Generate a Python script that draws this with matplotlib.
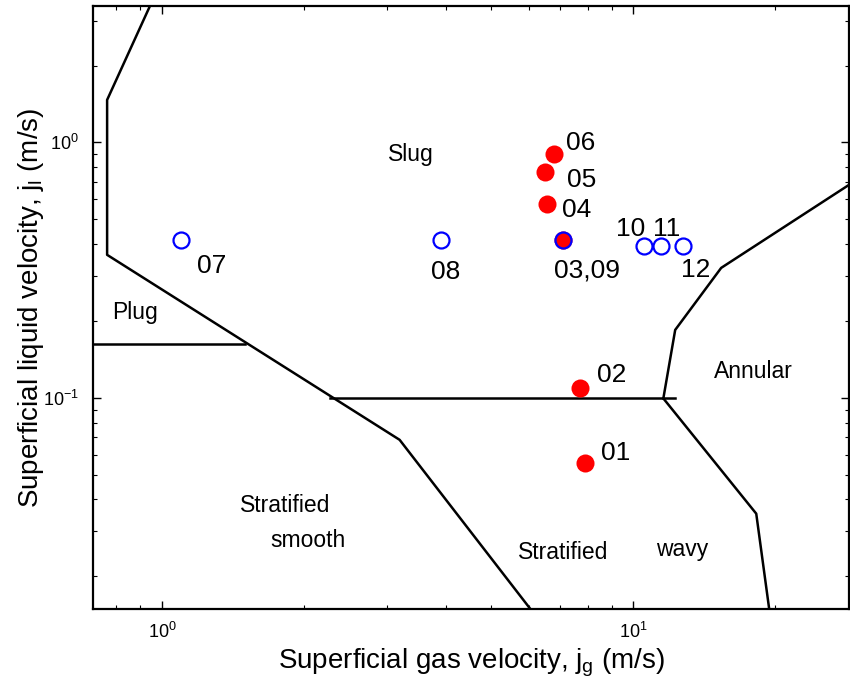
import matplotlib
matplotlib.use('Agg')
import matplotlib.pyplot as plt

plt.rcParams['font.family'] = ['Liberation Sans', 'DejaVu Sans']
plt.rcParams['mathtext.fontset'] = 'custom'
plt.rcParams['mathtext.rm'] = 'Liberation Sans'
plt.rcParams['mathtext.it'] = 'Liberation Sans'
plt.rcParams['mathtext.bf'] = 'Liberation Sans:bold'

# test points: red = filled series, blue = open series
rojo_ids = ['01', '02', '03', '04', '05', '06']
rojo_jg = [7.91, 7.69, 7.11, 6.57, 6.51, 6.80]
rojo_jl = [0.0558, 0.1088, 0.415, 0.573, 0.766, 0.902]

azul_ids = ['07', '08', '09', '10', '11', '12']
azul_jg = [1.097, 3.90, 7.11, 10.55, 11.45, 12.76]
azul_jl = [0.415, 0.415, 0.415, 0.393, 0.393, 0.393]

# label offsets (points) for each point label
rojo_off = [(22, 7), (23, 10), (17, -22), (21, -4), (26, -6), (19, 8)]
rojo_txt = ['01', '02', '03,09', '04', '05', '06']
azul_off = [(22, -19), (4, -23), None, (-10, 12), (4, 12), (9, -17)]

# flow regime boundaries (jg, jl)
slug_izq_jg = [0.943, 0.765, 0.765, 3.193, 6.02]
slug_izq_jl = [3.42, 1.467, 0.363, 0.0685, 0.01507]
plug_jg = [0.70, 1.499]
plug_jl = [0.1627, 0.1627]
strat_jg = [2.27, 12.27]
strat_jl = [0.0995, 0.0995]
anular_jg = [11.58, 12.27, 15.36, 30.0]
anular_jl = [0.0995, 0.1845, 0.3227, 0.72]
ondas_jg = [11.58, 18.23, 19.42]
ondas_jl = [0.0995, 0.0352, 0.0149]

# regime names
regimen_txt = ['Slug', 'Plug', 'Annular', 'Stratified', 'smooth', 'Stratified', 'wavy']
regimen_jg = [3.37, 0.877, 17.96, 1.822, 2.039, 7.11, 12.70]
regimen_jl = [0.894, 0.215, 0.1264, 0.0378, 0.02756, 0.02473, 0.02541]

fig = plt.figure(figsize=(8.5, 6.85), dpi=100)
ax = fig.add_axes([0.1094, 0.1109, 0.8896, 0.8803])
ax.set_xscale('log')
ax.set_yscale('log')
ax.set_xlim(0.714, 28.7)
ax.set_ylim(0.0149, 3.42)

for xs, ys in [(slug_izq_jg, slug_izq_jl), (plug_jg, plug_jl), (strat_jg, strat_jl),
               (anular_jg, anular_jl), (ondas_jg, ondas_jl)]:
    ax.plot(xs, ys, color='black', lw=1.8, clip_on=True)

ax.plot(rojo_jg, rojo_jl, 'o', color='red', markersize=13, markeredgewidth=0, zorder=3)
ax.plot(azul_jg, azul_jl, 'o', markerfacecolor='none', markeredgecolor='blue',
        markersize=11.5, markeredgewidth=1.6, zorder=4)

for t, x, y, off in zip(rojo_txt, rojo_jg, rojo_jl, rojo_off):
    ax.annotate(t, (x, y), xytext=off, textcoords='offset points',
                ha='center', va='center', fontsize=19)
for t, x, y, off in zip(azul_ids, azul_jg, azul_jl, azul_off):
    if off is None:
        continue
    ax.annotate(t, (x, y), xytext=off, textcoords='offset points',
                ha='center', va='center', fontsize=19)

for t, x, y in zip(regimen_txt, regimen_jg, regimen_jl):
    ax.text(x, y, t, ha='center', va='center', fontsize=16.5)

ax.set_xlabel(r'Superficial gas velocity, $j_g$ (m/s)', fontsize=20, labelpad=4)
ax.set_ylabel(r'Superficial liquid velocity, $j_l$ (m/s)', fontsize=20, labelpad=-2)

ax.tick_params(which='both', direction='in', top=True, right=True, labelsize=13)
ax.tick_params(axis='x', which='major', pad=9)
ax.tick_params(axis='y', which='major', pad=10)
ax.tick_params(which='major', length=6, width=1)
ax.tick_params(which='minor', length=3, width=0.8)
for s in ax.spines.values():
    s.set_linewidth(1.6)

fig.savefig('out.png', dpi=100)
